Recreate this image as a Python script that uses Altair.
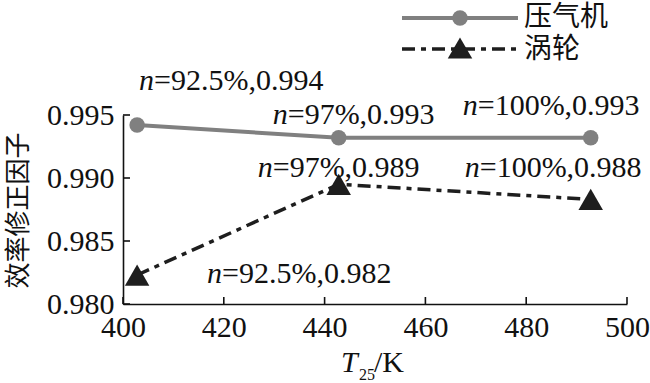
import altair as alt
import pandas as pd

# ---- data ----
temps = [402.8, 442.8, 492.8]
comp_vals = [0.9942, 0.9932, 0.9932]
turb_vals = [0.9823, 0.9895, 0.9883]
series_names = ["压气机", "涡轮"]
comp_labels = ["=92.5%,0.994", "=97%,0.993", "=100%,0.993"]
turb_labels = ["=92.5%,0.982", "=97%,0.989", "=100%,0.988"]
x_ticks = [400, 420, 440, 460, 480, 500]
y_ticks = [0.980, 0.985, 0.990, 0.995]

# ---- styling ----
W, H = 504, 189
SERIF = "Liberation Serif, Times New Roman, serif"
CJK = "Noto Sans CJK SC"
GRAY = "#808080"
DARK = "#1e1e1e"
DASH = [13, 6, 5, 6]
comp_offsets = [(2, -35), (-66, -14), (-128, -23)]
turb_offsets = [(70, 8), (-81, -7), (-126, -22)]

comp = pd.DataFrame({"T": temps, "v": comp_vals, "lab": comp_labels})
turb = pd.DataFrame({"T": temps, "v": turb_vals, "lab": turb_labels})

xs = alt.Scale(domain=[400, 500], nice=False)
ys = alt.Scale(domain=[0.980, 0.995], nice=False, zero=False)

X = alt.X("T:Q", scale=xs, axis=alt.Axis(
    values=x_ticks, title=None, grid=False, ticks=False, tickSize=0,
    labelFont=SERIF, labelFontSize=30, labelColor="#111", labelPadding=8,
    labelFlush=False, labelOverlap=False,
    domainColor="#111", domainWidth=1.6, format="d"))
Y = alt.Y("v:Q", scale=ys, axis=alt.Axis(
    values=y_ticks, title="效率修正因子", grid=False, ticks=False, tickSize=0,
    labelFont=SERIF, labelFontSize=30, labelColor="#111", labelPadding=9,
    labelFlush=False, labelOverlap=False,
    format=".3f", domainColor="#111", domainWidth=1.6,
    titleFont=CJK, titleFontSize=26, titleFontWeight="normal", titleColor="#111",
    titleX=-105, titleY=95, titleAlign="center", titleBaseline="middle", titleAngle=270))

base_c = alt.Chart(comp)
base_t = alt.Chart(turb)

layers = []
layers.append(base_c.mark_line(color=GRAY, strokeWidth=4).encode(x=X, y=Y))
layers.append(base_t.mark_line(color=DARK, strokeWidth=3.5, strokeDash=DASH).encode(x="T:Q", y="v:Q"))
layers.append(base_c.mark_point(shape="circle", filled=True, size=240, color=GRAY, opacity=1).encode(x="T:Q", y="v:Q"))
layers.append(base_t.mark_point(shape="triangle-up", filled=True, size=600, color=DARK, opacity=1).encode(x="T:Q", y="v:Q"))

# inward ticks
xt = pd.DataFrame({"T": x_ticks})
yt = pd.DataFrame({"v": y_ticks})
layers.append(alt.Chart(xt).mark_rule(color="#111", strokeWidth=1.6).encode(
    x="T:Q", y=alt.value(H), y2=alt.value(H - 7)))
layers.append(alt.Chart(yt).mark_rule(color="#111", strokeWidth=1.6).encode(
    y="v:Q", x=alt.value(0), x2=alt.value(7)))

# annotations: italic "n" + rest
def annot(df, offsets):
    out = []
    for i, (dx, dy) in enumerate(offsets):
        row = df.iloc[[i]]
        c = alt.Chart(row)
        out.append(c.mark_text(text="n", font=SERIF, fontStyle="italic", fontSize=30,
                               align="left", baseline="alphabetic", dx=dx, dy=dy,
                               color="#111").encode(x="T:Q", y="v:Q"))
        out.append(c.mark_text(font=SERIF, fontSize=30, align="left", baseline="alphabetic",
                               dx=dx + 15, dy=dy, color="#111").encode(
            x="T:Q", y="v:Q", text="lab:N"))
    return out

layers += annot(comp, comp_offsets)
layers += annot(turb, turb_offsets)

# x-axis title T25/K
layers.append(alt.Chart(pd.DataFrame({"t": ["T"]})).mark_text(
    font=SERIF, fontStyle="italic", fontSize=30, align="left", baseline="alphabetic", color="#111"
).encode(x=alt.value(218), y=alt.value(257), text="t:N"))
layers.append(alt.Chart(pd.DataFrame({"t": ["25"]})).mark_text(
    font=SERIF, fontSize=16, align="left", baseline="alphabetic", color="#111"
).encode(x=alt.value(236), y=alt.value(265), text="t:N"))
layers.append(alt.Chart(pd.DataFrame({"t": ["/K"]})).mark_text(
    font=SERIF, fontSize=30, align="left", baseline="alphabetic", color="#111"
).encode(x=alt.value(251), y=alt.value(257), text="t:N"))

# legend
leg_c = alt.Chart(pd.DataFrame({"s": [series_names[0]]}))
leg_t = alt.Chart(pd.DataFrame({"s": [series_names[1]]}))
layers.append(leg_c.mark_rule(color=GRAY, strokeWidth=4).encode(
    x=alt.value(279), x2=alt.value(395), y=alt.value(-97)))
layers.append(leg_c.mark_point(shape="circle", filled=True, size=240, color=GRAY, opacity=1).encode(
    x=alt.value(337), y=alt.value(-97)))
layers.append(leg_c.mark_text(font=CJK, fontSize=28, align="left", baseline="middle", color="#111").encode(
    x=alt.value(401), y=alt.value(-97), text="s:N"))
layers.append(leg_t.mark_rule(color=DARK, strokeWidth=3.5, strokeDash=DASH).encode(
    x=alt.value(279), x2=alt.value(395), y=alt.value(-66)))
layers.append(leg_t.mark_point(shape="triangle-up", filled=True, size=600, color=DARK, opacity=1).encode(
    x=alt.value(337), y=alt.value(-67)))
layers.append(leg_t.mark_text(font=CJK, fontSize=28, align="left", baseline="middle", color="#111").encode(
    x=alt.value(401), y=alt.value(-65), text="s:N"))

chart = alt.layer(*layers).properties(
    width=W, height=H,
    padding={"left": 123, "top": 115, "right": 23, "bottom": 79},
    autosize=alt.AutoSizeParams(type="none"),
    background="white",
).configure_view(stroke=None)

chart.save("out.html", embed_options={"renderer": "svg", "actions": False})
